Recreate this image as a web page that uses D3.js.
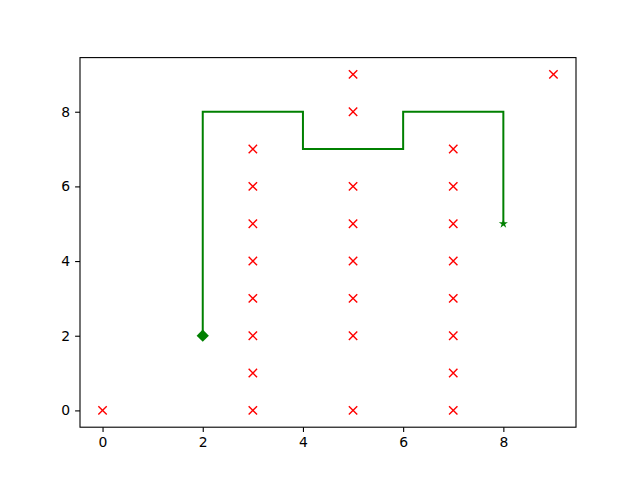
<!DOCTYPE html>
<html>
<head>
<meta charset="utf-8">
<script src="https://cdn.jsdelivr.net/npm/d3@7"></script>
<style>
body { margin: 0; background: #fff; }
svg { font-family: "DejaVu Sans", sans-serif; }
</style>
</head>
<body>
<svg id="chart" width="640" height="480"></svg>
<script>
// obstacles (red x)
const obsX = [0, 3, 3, 3, 3, 3, 3, 3, 3, 5, 5, 5, 5, 5, 5, 5, 5, 7, 7, 7, 7, 7, 7, 7, 7, 9]
const obsY = [0, 0, 1, 2, 3, 4, 5, 6, 7, 0, 2, 3, 4, 5, 6, 8, 9, 0, 1, 2, 3, 4, 5, 6, 7, 9]
// path (green)
const pathX = [2, 2, 4, 4, 6, 6, 8, 8]
const pathY = [2, 8, 8, 7, 7, 8, 8, 5]
const xTicks = [0, 2, 4, 6, 8]
const yTicks = [0, 2, 4, 6, 8]

const svg = d3.select("#chart")
const mLeft = 80, mRight = 576, mTop = 57.6, mBottom = 427.2

const x = d3.scaleLinear().domain([-0.45, 9.45]).range([mLeft, mRight])
const y = d3.scaleLinear().domain([-0.45, 9.45]).range([mBottom, mTop])

// path line
const line = d3.line().x(d => x(d[0])).y(d => y(d[1]))
const pts = pathX.map((v, i) => [v, pathY[i]])
svg.append("path")
    .attr("d", line(pts))
    .attr("fill", "none")
    .attr("stroke", "green")
    .attr("stroke-width", 2)

// obstacles
obsX.forEach((v, i) => {
    const cx = x(v), cy = y(obsY[i]), s = 4.2
    svg.append("path")
        .attr("d", `M${cx - s},${cy - s}L${cx + s},${cy + s}M${cx - s},${cy + s}L${cx + s},${cy - s}`)
        .attr("stroke", "red")
        .attr("stroke-width", 1.4)
})

// start diamond
svg.append("path")
    .attr("d", d3.symbol(d3.symbolSquare, 75)())
    .attr("transform", `translate(${x(pathX[0])},${y(pathY[0])}) rotate(45)`)
    .attr("fill", "green")

// end star
svg.append("path")
    .attr("d", d3.symbol(d3.symbolStar, 26)())
    .attr("transform", `translate(${x(pathX[pathX.length - 1])},${y(pathY[pathY.length - 1])})`)
    .attr("fill", "green")

// axes
const xAxis = svg.append("g")
    .attr("transform", `translate(0,${mBottom})`)
    .call(d3.axisBottom(x).tickValues(xTicks).tickSize(4.9).tickPadding(4.9))
const yAxis = svg.append("g")
    .attr("transform", `translate(${mLeft},0)`)
    .call(d3.axisLeft(y).tickValues(yTicks).tickSize(4.9).tickPadding(4.9))
;[xAxis, yAxis].forEach(g => {
    g.select(".domain").remove()
    g.selectAll("text").attr("font-size", 13.9).attr("fill", "#000").attr("font-family", "DejaVu Sans")
    g.selectAll("line").attr("stroke", "#000").attr("stroke-width", 1.1)
})

svg.append("rect")
    .attr("x", mLeft).attr("y", mTop)
    .attr("width", mRight - mLeft).attr("height", mBottom - mTop)
    .attr("fill", "none")
    .attr("stroke", "#000")
    .attr("stroke-width", 1.1)
</script>
</body>
</html>
